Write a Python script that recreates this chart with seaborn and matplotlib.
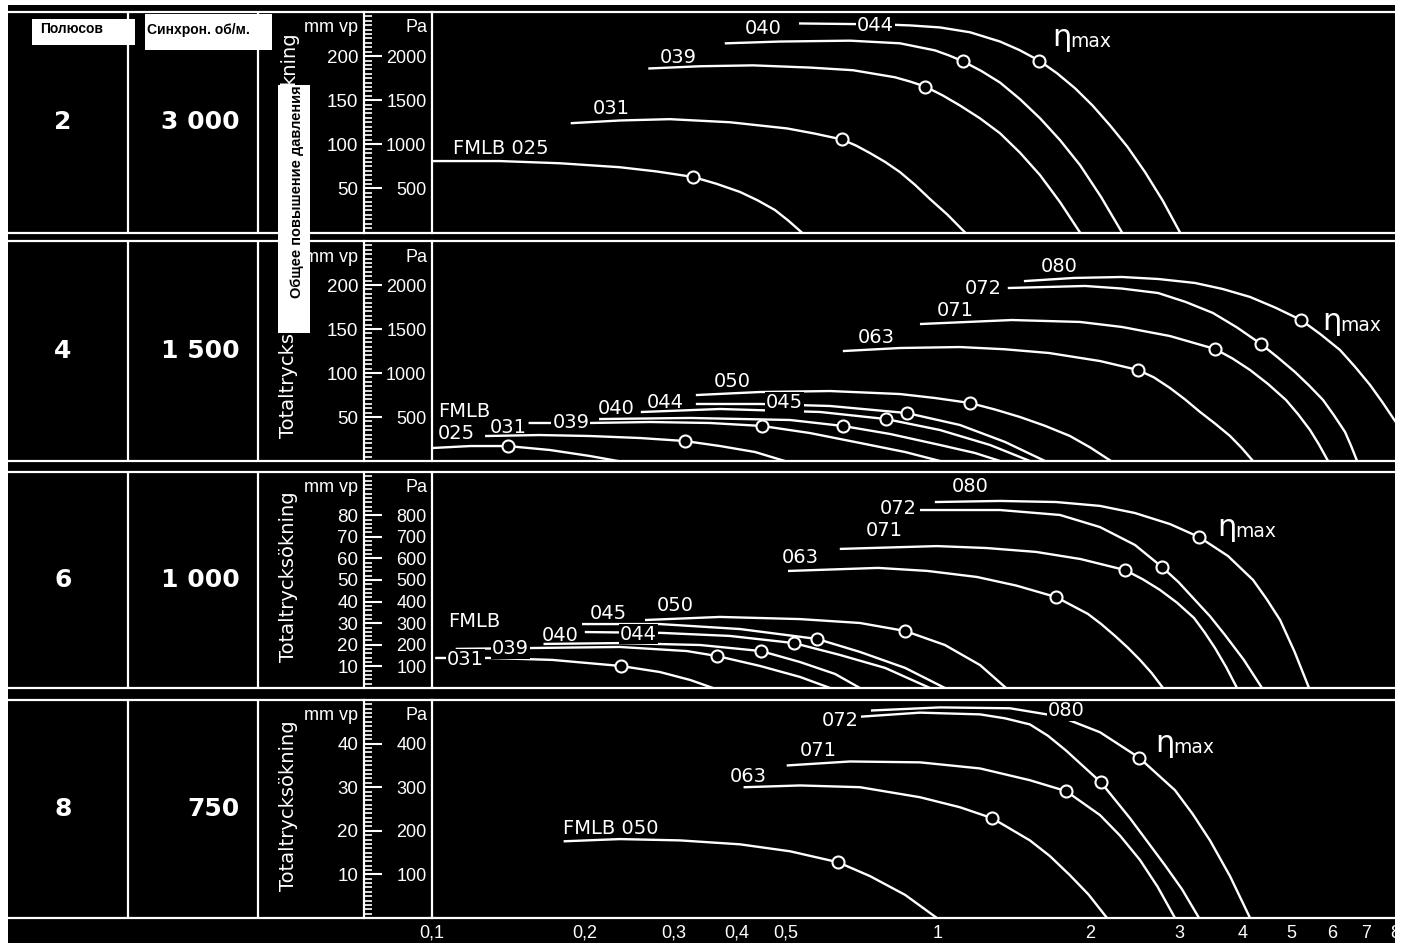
import pandas as pd
import matplotlib
matplotlib.use("Agg")
import matplotlib.pyplot as plt
from matplotlib import font_manager
from matplotlib.patches import Rectangle
from matplotlib.lines import Line2D
from matplotlib.ticker import MultipleLocator, NullLocator
import seaborn as sns

# ---------------------------------------------------------------- data
POLES = ["2", "4", "6", "8"]
SPEEDS = ["3 000", "1 500", "1 000", "750"]

X_TICKS = [0.1, 0.2, 0.3, 0.4, 0.5, 1, 2, 3, 4, 5, 6, 7, 8]
X_TICK_LABELS = ["0,1", "0,2", "0,3", "0,4", "0,5", "1", "2", "3", "4", "5", "6", "7", "8"]

PA_MAX = [2500, 2500, 1000, 500]
PA_TICKS = [[500, 1000, 1500, 2000],
            [500, 1000, 1500, 2000],
            [100, 200, 300, 400, 500, 600, 700, 800],
            [100, 200, 300, 400]]
MM_TICKS = [[50, 100, 150, 200],
            [50, 100, 150, 200],
            [10, 20, 30, 40, 50, 60, 70, 80],
            [10, 20, 30, 40]]
MM_MINOR = [5, 5, 2, 1]

# 2 poles, 3000 rpm  (flow m3/s, total pressure Pa)
Q2_025 = [0.100, 0.136, 0.179, 0.235, 0.278, 0.328, 0.365, 0.406, 0.440, 0.476, 0.506, 0.538]
P2_025 = [810, 810, 785, 740, 692, 630, 552, 460, 365, 255, 135, 0]
Q2_031 = [0.189, 0.235, 0.295, 0.388, 0.503, 0.570, 0.646, 0.689, 0.734, 0.786, 0.841, 0.900,
          0.964, 1.044, 1.131]
P2_031 = [1240, 1270, 1285, 1250, 1180, 1122, 1055, 985, 900, 800, 685, 542, 380, 202, 0]
Q2_039 = [0.269, 0.339, 0.431, 0.558, 0.679, 0.822, 0.880, 0.943, 1.021, 1.105, 1.210, 1.326,
          1.452, 1.591, 1.742, 1.908]
P2_039 = [1860, 1885, 1895, 1870, 1840, 1760, 1712, 1655, 1555, 1440, 1295, 1125, 905, 650,
          345, 0]
Q2_040 = [0.381, 0.487, 0.670, 0.841, 0.986, 1.051, 1.121, 1.219, 1.326, 1.452, 1.591, 1.742,
          1.908, 2.099, 2.310]
P2_040 = [2145, 2165, 2175, 2145, 2065, 2008, 1940, 1830, 1700, 1512, 1295, 1048, 765, 405, 0]
Q2_044 = [0.534, 0.768, 0.880, 1.009, 1.157, 1.326, 1.449, 1.583, 1.719, 1.866, 2.020, 2.187,
          2.369, 2.565, 2.778, 3.008]
P2_044 = [2370, 2360, 2348, 2325, 2270, 2165, 2068, 1950, 1805, 1635, 1440, 1215, 970, 685,
          365, 0]

# 4 poles, 1500 rpm
Q4_025 = [0.1005, 0.119, 0.141, 0.171, 0.205, 0.233]
P4_025 = [148, 170, 170, 125, 57, 0]
Q4_031 = [0.128, 0.163, 0.205, 0.258, 0.316, 0.371, 0.435, 0.498]
P4_031 = [284, 295, 284, 261, 227, 170, 102, 0]
Q4_039 = [0.156, 0.205, 0.270, 0.354, 0.449, 0.558, 0.701, 0.861, 1.009]
P4_039 = [432, 432, 443, 432, 398, 318, 205, 102, 0]
Q4_040 = [0.215, 0.324, 0.510, 0.649, 0.804, 1.009, 1.183, 1.326]
P4_040 = [477, 489, 466, 398, 307, 182, 91, 0]
Q4_044 = [0.260, 0.371, 0.585, 0.789, 1.009, 1.267, 1.519]
P4_044 = [557, 591, 557, 477, 352, 182, 0]
Q4_045 = [0.334, 0.445, 0.612, 0.868, 1.105, 1.357, 1.627]
P4_045 = [648, 648, 625, 545, 409, 216, 0]
Q4_050 = [0.334, 0.445, 0.612, 0.841, 0.986, 1.157, 1.296, 1.452, 1.627, 1.823, 2.001, 2.197]
P4_050 = [750, 784, 795, 761, 716, 659, 585, 500, 400, 284, 152, 0]
Q4_063 = [0.652, 0.841, 1.105, 1.353, 1.658, 2.090, 2.485, 2.671, 2.873, 3.077, 3.295, 3.528,
          3.777, 3.980, 4.193]
P4_063 = [1250, 1284, 1295, 1270, 1227, 1136, 1034, 950, 830, 700, 557, 425, 284, 150, 0]
Q4_071 = [0.926, 1.400, 1.909, 2.310, 2.873, 3.526, 3.819, 4.137, 4.489, 4.872, 5.146, 5.435,
          5.662, 5.899]
P4_071 = [1557, 1602, 1580, 1523, 1420, 1273, 1165, 1034, 875, 693, 532, 352, 186, 0]
Q4_072 = [1.381, 1.952, 2.305, 2.722, 3.084, 3.494, 3.897, 4.347, 4.697, 5.076, 5.411, 5.767,
          6.062, 6.373, 6.551, 6.733]
P4_072 = [1966, 1989, 1960, 1909, 1808, 1682, 1518, 1330, 1175, 1011, 858, 693, 518, 330, 172, 0]
Q4_080 = [1.486, 1.853, 2.310, 2.727, 3.220, 3.650, 4.137, 4.645, 5.217, 5.701, 6.230, 6.671,
          7.142, 7.559, 8.0]
P4_080 = [2045, 2080, 2091, 2068, 2023, 1955, 1864, 1742, 1602, 1440, 1261, 1070, 864, 666, 455]

# 6 poles, 1000 rpm
Q6_031 = [0.102, 0.130, 0.173, 0.236, 0.282, 0.324, 0.359]
P6_031 = [139, 139, 130, 102, 74, 37, 0]
Q6_039 = [0.112, 0.156, 0.235, 0.319, 0.366, 0.445, 0.534, 0.612]
P6_039 = [181, 185, 190, 171, 148, 102, 51, 0]
Q6_040 = [0.167, 0.235, 0.339, 0.447, 0.534, 0.626, 0.701]
P6_040 = [204, 208, 199, 171, 120, 65, 0]
Q6_044 = [0.2015, 0.285, 0.388, 0.519, 0.640, 0.786, 0.964]
P6_044 = [259, 255, 241, 208, 153, 93, 0]
Q6_045 = [0.199, 0.282, 0.406, 0.577, 0.701, 0.861, 1.032]
P6_045 = [296, 296, 273, 227, 167, 93, 0]
Q6_050 = [0.265, 0.371, 0.534, 0.701, 0.861, 1.032, 1.211, 1.363]
P6_050 = [315, 329, 319, 301, 264, 199, 106, 0]
Q6_063 = [0.508, 0.761, 0.953, 1.194, 1.429, 1.711, 1.978, 2.104, 2.238, 2.369, 2.507, 2.642,
          2.784]
P6_063 = [542, 556, 542, 514, 474, 421, 343, 295, 241, 188, 130, 70, 0]
Q6_071 = [0.643, 0.995, 1.247, 1.562, 1.913, 2.342, 2.536, 2.746, 2.967, 3.206, 3.363, 3.527,
          3.708, 3.898]
P6_071 = [644, 657, 648, 630, 597, 546, 504, 454, 395, 324, 258, 185, 98, 0]
Q6_072 = [0.926, 1.326, 1.742, 2.090, 2.451, 2.771, 2.988, 3.221, 3.448, 3.692, 4.016, 4.368]
P6_072 = [824, 824, 801, 745, 662, 560, 490, 407, 332, 245, 132, 0]
Q6_080 = [0.991, 1.326, 1.711, 2.090, 2.451, 2.873, 3.280, 3.742, 4.194, 4.460, 4.742, 5.065,
          5.410]
P6_080 = [861, 866, 861, 843, 810, 759, 699, 611, 500, 412, 315, 168, 0]

# 8 poles, 750 rpm
Q8_050 = [0.183, 0.235, 0.309, 0.406, 0.510, 0.634, 0.734, 0.861, 0.995]
P8_050 = [176, 181, 178, 169, 153, 128, 96, 53, 0]
Q8_063 = [0.415, 0.534, 0.701, 0.921, 1.105, 1.279, 1.519, 1.664, 1.823, 1.983, 2.158]
P8_063 = [300, 304, 300, 277, 254, 229, 178, 142, 98, 54, 0]
Q8_071 = [0.505, 0.670, 0.921, 1.211, 1.519, 1.791, 2.090, 2.289, 2.507, 2.715, 2.940]
P8_071 = [350, 359, 357, 343, 316, 291, 236, 189, 133, 72, 0]
Q8_072 = [0.708, 0.921, 1.211, 1.356, 1.519, 1.649, 1.791, 2.099, 2.395, 2.809, 3.035, 3.280]
P8_072 = [462, 471, 467, 458, 444, 418, 384, 311, 229, 121, 66, 0]
Q8_080 = [0.741, 1.009, 1.388, 1.742, 2.090, 2.495, 2.940, 3.184, 3.447, 3.776, 4.137]
P8_080 = [476, 483, 481, 462, 426, 368, 293, 239, 178, 96, 0]

# flow at the best-efficiency point of each curve
ETA_Q2 = [0.328, 0.646, 0.943, 1.121, 1.583]
ETA_Q4 = [0.141, 0.316, 0.449, 0.649, 0.789, 0.868, 1.157, 2.485, 3.526, 4.347, 5.217]
ETA_Q6 = [0.236, 0.366, 0.447, 0.519, 0.577, 0.861, 1.711, 2.342, 2.771, 3.280]
ETA_Q8 = [0.634, 1.279, 1.791, 2.099, 2.495]

CURVES = [
    [("025", Q2_025, P2_025), ("031", Q2_031, P2_031), ("039", Q2_039, P2_039),
     ("040", Q2_040, P2_040), ("044", Q2_044, P2_044)],
    [("025", Q4_025, P4_025), ("031", Q4_031, P4_031), ("039", Q4_039, P4_039),
     ("040", Q4_040, P4_040), ("044", Q4_044, P4_044), ("045", Q4_045, P4_045),
     ("050", Q4_050, P4_050), ("063", Q4_063, P4_063), ("071", Q4_071, P4_071),
     ("072", Q4_072, P4_072), ("080", Q4_080, P4_080)],
    [("031", Q6_031, P6_031), ("039", Q6_039, P6_039), ("040", Q6_040, P6_040),
     ("044", Q6_044, P6_044), ("045", Q6_045, P6_045), ("050", Q6_050, P6_050),
     ("063", Q6_063, P6_063), ("071", Q6_071, P6_071), ("072", Q6_072, P6_072),
     ("080", Q6_080, P6_080)],
    [("050", Q8_050, P8_050), ("063", Q8_063, P8_063), ("071", Q8_071, P8_071),
     ("072", Q8_072, P8_072), ("080", Q8_080, P8_080)],
]
ETA_Q = [ETA_Q2, ETA_Q4, ETA_Q6, ETA_Q8]

# ---------------------------------------------------------------- layout
# curve labels: (text, flow, pressure, masks the line underneath)
LABELS = [
    [("FMLB 025", 0.110, 956, False), ("031", 0.208, 1408, False), ("039", 0.282, 1985, False),
     ("040", 0.415, 2313, False), ("044", 0.692, 2347, True)],
    [("FMLB", 0.1027, 557, False), ("025", 0.1027, 318, False), ("031", 0.130, 386, False),
     ("039", 0.173, 432, True), ("040", 0.213, 591, False), ("044", 0.266, 670, False),
     ("045", 0.457, 670, True), ("050", 0.361, 909, False), ("063", 0.695, 1409, False),
     ("071", 0.995, 1705, False), ("072", 1.131, 1955, False), ("080", 1.598, 2205, False)],
    [("FMLB", 0.1075, 306, False), ("031", 0.107, 132, True), ("039", 0.1314, 185, True),
     ("040", 0.165, 245, False), ("044", 0.235, 250, True), ("045", 0.205, 347, False),
     ("050", 0.278, 384, False), ("063", 0.492, 606, False), ("071", 0.720, 727, False),
     ("072", 0.768, 829, False), ("080", 1.066, 931, False)],
    [("FMLB 050", 0.1815, 206, False), ("063", 0.388, 325, False), ("071", 0.534, 384, False),
     ("072", 0.590, 453, False), ("080", 1.650, 476, True)],
]
ETA_POS = [(1.68, 2212), (5.74, 1580), (3.558, 745), (2.685, 400)]

W, H = 1402, 943
TOP = [12, 241, 472, 700]
BOT = [232.5, 461, 688, 918]
X_LEFT, X_AX, X_MM, X_RIGHT = 8, 432, 364, 1395
RULE_LW = 1.6
CURVE_LW = 1.7

available = {f.name for f in font_manager.fontManager.ttflist}
NARROW = "Liberation Sans Narrow" if "Liberation Sans Narrow" in available else "Liberation Sans"


def num_font(size):
    return font_manager.FontProperties(family=NARROW, size=size)


plt.rcParams["font.family"] = ["DejaVu Sans"]
fig = plt.figure(figsize=(W / 100, H / 100), dpi=100)
fig.patch.set_facecolor("white")


def fx(px):
    return px / W


def fy(py):
    return 1.0 - py / H


def hline(py, x0=X_LEFT, x1=X_RIGHT, lw=RULE_LW):
    fig.add_artist(Line2D([fx(x0), fx(x1)], [fy(py), fy(py)], color="white", lw=lw,
                          solid_capstyle="butt", zorder=3))


def vline(px, y0, y1, lw=RULE_LW):
    fig.add_artist(Line2D([fx(px), fx(px)], [fy(y0), fy(y1)], color="white", lw=lw,
                          solid_capstyle="butt", zorder=3))


# black sheet
fig.add_artist(Rectangle((fx(X_LEFT), 0), fx(X_RIGHT) - fx(X_LEFT), fy(5),
                         facecolor="black", edgecolor="none", zorder=-5))

for i in range(4):
    top, bot = TOP[i], BOT[i]
    mid = (top + bot) / 2
    hline(top)
    hline(bot)
    vline(128, top, bot)
    vline(258, top, bot)

    fig.text(fx(63), fy(mid), POLES[i], ha="center", va="center", color="white",
             fontsize=18, fontweight="bold")
    fig.text(fx(240), fy(mid), SPEEDS[i], ha="right", va="center", color="white",
             fontsize=18, fontweight="bold")
    fig.text(fx(358), fy(top + 16), "mm vp", ha="right", va="center", color="white",
             fontsize=13, family="Liberation Sans")
    fig.text(fx(428), fy(top + 16), "Pa", ha="right", va="center", color="white",
             fontsize=13, family="Liberation Sans")

    # main curve axes
    ax = fig.add_axes([fx(X_AX), fy(bot), fx(X_RIGHT) - fx(X_AX), (bot - top) / H])
    ax.set_facecolor("none")
    ax.set_xscale("log")
    ax.set_xlim(0.1, 8)
    ax.set_ylim(0, PA_MAX[i])

    rows = []
    eta_rows = []
    for (model, q, p), qe in zip(CURVES[i], ETA_Q[i]):
        for qq, pp in zip(q, p):
            rows.append({"model": model, "q": qq, "P": pp})
        k = min(range(len(q)), key=lambda j: abs(q[j] - qe))
        eta_rows.append({"model": model, "q": q[k], "P": p[k]})
    df = pd.DataFrame(rows)
    eta = pd.DataFrame(eta_rows)

    sns.lineplot(data=df, x="q", y="P", units="model", estimator=None, sort=False,
                 color="white", linewidth=CURVE_LW, ax=ax, legend=False)
    sns.scatterplot(data=eta, x="q", y="P", s=75, color="black", edgecolor="white",
                    linewidth=1.5, ax=ax, legend=False, zorder=4)

    for text, q, p, mask in LABELS[i]:
        kw = {}
        if mask:
            kw["bbox"] = dict(boxstyle="square,pad=0.05", facecolor="black", edgecolor="none")
        ax.text(q, p, text, ha="left", va="center", color="white", fontsize=14,
                zorder=6, **kw)
    eq, ep = ETA_POS[i]
    ax.text(eq, ep, "η", ha="left", va="center", color="white", fontsize=22, zorder=6)
    ax.annotate("max", xy=(eq, ep), xytext=(18, -4), textcoords="offset pixels",
                ha="left", va="center", color="white", fontsize=13.5, zorder=6)

    ax.set_xlabel("")
    ax.set_ylabel("")
    ax.grid(False)
    for s in ("top", "right", "bottom"):
        ax.spines[s].set_visible(False)
    ax.spines["left"].set_color("white")
    ax.spines["left"].set_linewidth(RULE_LW)
    ax.set_yticks(PA_TICKS[i])
    ax.set_yticklabels([str(v) for v in PA_TICKS[i]], fontproperties=num_font(13))
    ax.tick_params(axis="y", length=0, pad=4, labelcolor="white")
    ax.xaxis.set_minor_locator(NullLocator())
    if i == 3:
        ax.set_xticks(X_TICKS)
        ax.set_xticklabels(X_TICK_LABELS, fontproperties=num_font(13))
        ax.tick_params(axis="x", length=0, pad=5, labelcolor="white")
    else:
        ax.set_xticks([])

    # mm water column scale
    axm = fig.add_axes([fx(X_MM), fy(bot), 0.0002, (bot - top) / H])
    axm.set_facecolor("none")
    axm.set_ylim(0, PA_MAX[i] / 10)
    axm.set_xticks([])
    for s in ("top", "right", "bottom"):
        axm.spines[s].set_visible(False)
    axm.spines["left"].set_color("white")
    axm.spines["left"].set_linewidth(RULE_LW)
    axm.set_yticks(MM_TICKS[i])
    axm.set_yticklabels([str(v) for v in MM_TICKS[i]], fontproperties=num_font(13.5))
    axm.yaxis.set_minor_locator(MultipleLocator(MM_MINOR[i]))
    axm.tick_params(axis="y", which="major", direction="in", length=13, width=1.5,
                    color="white", pad=4, labelcolor="white")
    axm.tick_params(axis="y", which="minor", direction="in", length=6, width=1.2,
                    color="white")

# Swedish axis captions (upper two partly hidden by the Russian caption strip)
fig.text(fx(289), fy(31), "kning", rotation=90, ha="center", va="top", color="white",
         fontsize=14)
fig.text(fx(289), fy(438), "Totaltrycks", rotation=90, ha="center", va="bottom",
         color="white", fontsize=14)
for i in (2, 3):
    fig.text(fx(289), fy((TOP[i] + BOT[i]) / 2 - 3), "Totaltrycksökning", rotation=90,
             ha="center", va="center", color="white", fontsize=14)

# Russian header overlays
fig.add_artist(Rectangle((fx(32), fy(45)), fx(135) - fx(32), (45 - 19) / H,
                         facecolor="white", edgecolor="none", zorder=20))
fig.text(fx(40), fy(29), "Полюсов", ha="left", va="center", color="black",
         fontsize=10, fontweight="bold", family="Liberation Sans", zorder=21)
fig.add_artist(Rectangle((fx(145), fy(50)), fx(272) - fx(145), (50 - 14) / H,
                         facecolor="white", edgecolor="none", zorder=20))
fig.text(fx(147), fy(30), "Синхрон. об/м.", ha="left", va="center", color="black",
         fontsize=10, fontweight="bold", family="Liberation Sans", zorder=21)
fig.add_artist(Rectangle((fx(278), fy(333)), fx(310) - fx(278), (333 - 85) / H,
                         facecolor="white", edgecolor="none", zorder=20))
fig.text(fx(297), fy(192), "Общее повышение давления", rotation=90, ha="center",
         va="center", color="black", fontsize=10.5, fontweight="bold",
         family="Liberation Sans", zorder=21)

fig.savefig("out.png", dpi=100, facecolor=fig.get_facecolor())
